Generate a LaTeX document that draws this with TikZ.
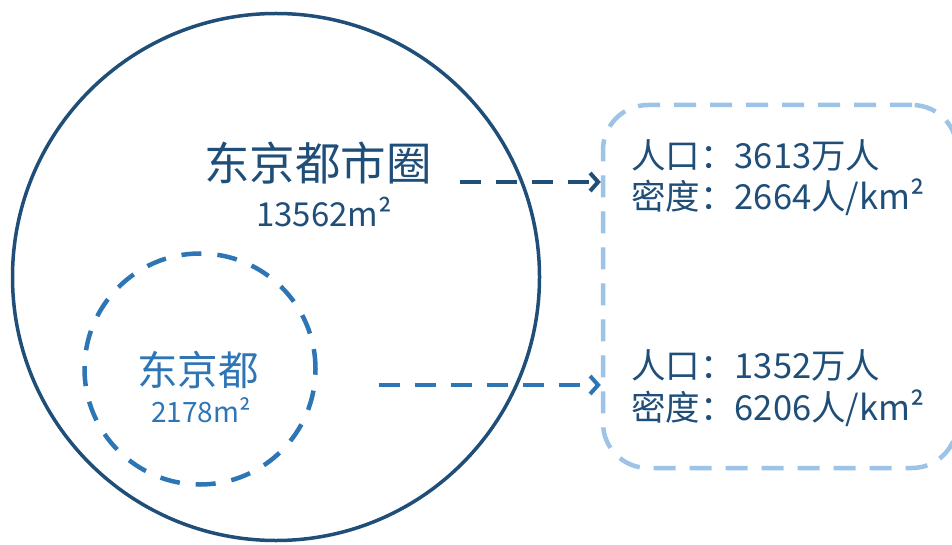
\documentclass[tikz,border=0pt]{standalone}
\usepackage{fontspec}
\newfontfamily\cjk{Noto Sans CJK SC}
\usetikzlibrary{arrows.meta}
\definecolor{dkblue}{RGB}{31,78,121}
\definecolor{mdblue}{RGB}{46,117,182}
\definecolor{ltblue}{RGB}{157,195,230}
\tikzset{
  bigcirc/.style={circle, draw=dkblue, line width=3.5pt, minimum size=527pt, inner sep=0pt},
  smallcirc/.style={circle, draw=mdblue, line width=4.5pt, dash pattern=on 20pt off 16pt, minimum size=231pt, inner sep=0pt},
  infobox/.style={draw=ltblue, line width=4.5pt, dash pattern=on 22pt off 14pt, rounded corners=45pt, inner sep=0pt},
  lbl/.style={inner sep=0pt, font=\cjk},
  arr/.style={line width=4pt, dash pattern=on 21pt off 15pt, -{Straight Barb[length=8pt,width=18pt,line width=4pt]}},
}
\begin{document}
\begin{tikzpicture}[x=1pt,y=-1pt]
\useasboundingbox (0,0) rectangle (952,545);
\clip (0,0) rectangle (952,545);
\node[bigcirc] (big) at (276,277) {};
\node[smallcirc] (small) at (200,369) {};
\node[infobox, minimum width=354pt, minimum height=363pt] (box) at (780,286.5) {};
\node[lbl, text=dkblue, font=\cjk\fontsize{45.5}{45.5}\selectfont] (t1) at (318,163) {东京都市圈};
\node[lbl, text=dkblue, font=\cjk\fontsize{33}{33}\selectfont] (s1) at (324,212) {13562m²};
\node[lbl, text=mdblue, font=\cjk\fontsize{40.5}{40.5}\selectfont] (t2) at (198,370) {东京都};
\node[lbl, text=mdblue, font=\cjk\fontsize{28}{28}\selectfont] (s2) at (201,410) {2178m²};
\node[lbl, anchor=west, text=dkblue, font=\cjk\fontsize{34.5}{34.5}\selectfont] (p1) at (631,155) {人口：3613万人};
\node[lbl, anchor=west, text=dkblue, font=\cjk\fontsize{34.5}{34.5}\selectfont] (d1) at (631,197) {密度：2664人/km²};
\node[lbl, anchor=west, text=dkblue, font=\cjk\fontsize{34.5}{34.5}\selectfont] (p2) at (631,365) {人口：1352万人};
\node[lbl, anchor=west, text=dkblue, font=\cjk\fontsize{34.5}{34.5}\selectfont] (d2) at (631,408) {密度：6206人/km²};
\coordinate (a1) at (460,182);
\coordinate (a2) at (379,385);
\draw[arr, draw=dkblue] (a1) -- (a1 -| box.west);
\draw[arr, draw=mdblue] (a2) -- (a2 -| box.west);
\end{tikzpicture}
\end{document}
